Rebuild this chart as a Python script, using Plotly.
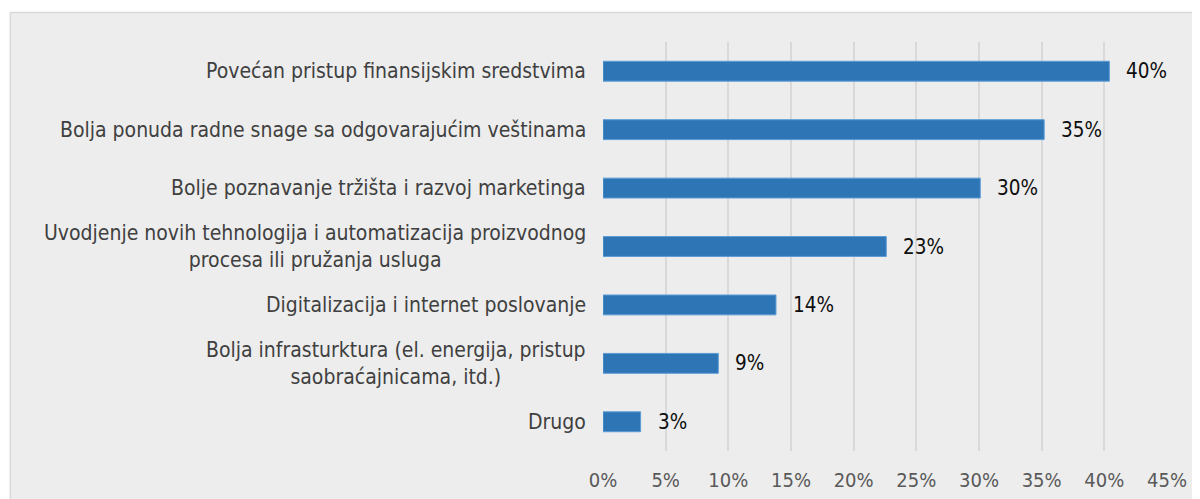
import plotly.graph_objects as go

categories = [
    "Povećan pristup finansijskim sredstvima",
    "Bolja ponuda radne snage sa odgovarajućim veštinama",
    "Bolje poznavanje tržišta i razvoj marketinga",
    "Uvodjenje novih tehnologija i automatizacija proizvodnog<br>procesa ili pružanja usluga",
    "Digitalizacija i internet poslovanje",
    "Bolja infrasturktura (el. energija, pristup<br>saobraćajnicama, itd.)",
    "Drugo",
]
values = [40.4, 35.2, 30.1, 22.6, 13.8, 9.2, 3.0]
tick_vals = [0, 5, 10, 15, 20, 25, 30, 35, 40, 45]
tick_text = ["0%", "5%", "10%", "15%", "20%", "25%", "30%", "35%", "40%", "45%"]

FONT = "DejaVu Sans Condensed, DejaVu Sans, sans-serif"
NUMFONT = "Liberation Sans Narrow, DejaVu Sans Condensed, sans-serif"

fig = go.Figure()
fig.add_trace(go.Bar(
    x=values,
    y=categories,
    orientation="h",
    marker=dict(color="#2E75B6", line=dict(color="#5B9BD5", width=1)),
    hoverinfo="skip",
))

annotations = []
for c, v in zip(categories, values):
    annotations.append(dict(
        x=0, y=c, xref="paper", yref="y", text=c, showarrow=False,
        xanchor="right", yanchor="middle", align="center", xshift=-15,
        font=dict(family=FONT, size=21, color="#404040"),
    ))
    annotations.append(dict(
        x=v, y=c, xref="x", yref="y", text=f"{round(v)}%", showarrow=False,
        xanchor="left", yanchor="middle", xshift=15,
        font=dict(family=NUMFONT, size=20.5, color="#0D0D0D"),
    ))

# page is offset by the 8px body margin; plot area in figure pixels
OFF = 8
L, R, T, B = 602.6 - OFF, 1167.0 - OFF, 42.0 - OFF, 451.0 - OFF
W, H = R - L, B - T
shape = dict(
    type="rect", xref="paper", yref="paper", layer="below",
    x0=(9.5 - OFF - L) / W, x1=(1215 - L) / W,
    y0=(B - 520) / H, y1=(B - (12.5 - OFF)) / H,
    fillcolor="#EDEDED", line=dict(color="#D9D9D9", width=1.5),
)

fig.update_layout(
    width=1200, height=499,
    margin=dict(l=L, r=1200 - R, t=T, b=499 - B, pad=0),
    paper_bgcolor="#FFFFFF",
    plot_bgcolor="rgba(0,0,0,0)",
    showlegend=False,
    bargap=0.66,
    shapes=[shape],
    annotations=annotations,
    xaxis=dict(
        range=[0, 45], tickvals=tick_vals, ticktext=tick_text,
        showgrid=True, gridcolor="#D9D9D9", gridwidth=2,
        zeroline=False, showline=False, ticks="",
        tickfont=dict(family=NUMFONT, size=20, color="#595959"),
        ticklabelstandoff=15,
        fixedrange=True,
    ),
    yaxis=dict(
        autorange="reversed", showticklabels=False, showgrid=False,
        zeroline=False, showline=False, ticks="", fixedrange=True,
    ),
)

fig.write_html("out.html")
